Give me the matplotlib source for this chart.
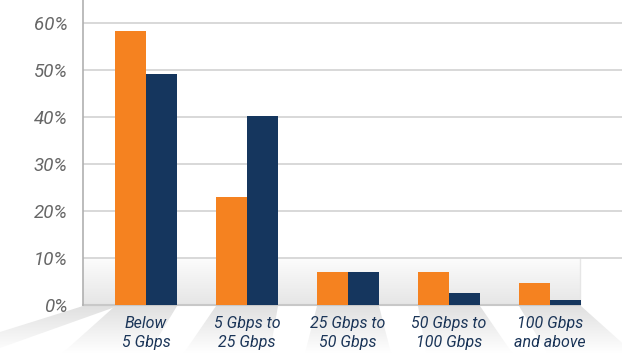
import numpy as np
import matplotlib.pyplot as plt
from matplotlib.patches import Polygon

categories = ["Below\n5 Gbps", "5 Gbps to\n25 Gbps", "25 Gbps to\n50 Gbps",
              "50 Gbps to\n100 Gbps", "100 Gbps\nand above"]
series_a = [58.2, 23.0, 7.0, 7.0, 4.6]
series_b = [49.2, 40.2, 7.0, 2.5, 1.1]
y_ticks = [0, 10, 20, 30, 40, 50, 60]

ORANGE = "#f58220"
NAVY = "#15365e"
W, H = 622, 353

fig = plt.figure(figsize=(W / 100, H / 100), dpi=100)
left, bottom = 83 / W, 48 / H
ax = fig.add_axes([left, bottom, 1 - left, 1 - bottom])

# background axes in pixel units for the floor shadows
bg = fig.add_axes([0, 0, 1, 1], zorder=-1)
bg.set_xlim(0, W)
bg.set_ylim(H, 0)
bg.axis("off")

x = np.arange(len(categories))
bw = 0.307
xmin, xmax = -0.624, 4.713
ax.set_xlim(xmin, xmax)
ax.set_ylim(0, 64.9)


def vgrad(top, bot, n=64):
    t = np.linspace(0, 1, n).reshape(-1, 1, 1)
    return (1 - t) * np.array(top) + t * np.array(bot)


# shaded band 0-10%
box_right = 4.297
ax.imshow(vgrad([0.99] * 3, [0.90] * 3), extent=(xmin, box_right, 0, 10),
          aspect="auto", origin="upper", zorder=0)
ax.plot([box_right, box_right], [0, 10], color="#e6e6e6", lw=1, zorder=1)

for t in y_ticks[1:]:
    ax.axhline(t, color="#d6d6d6", lw=1.3, zorder=1)
ax.plot([xmin, box_right], [0, 0], color="#c8c8c8", lw=1.5, zorder=1,
        clip_on=False)

ax.bar(x - bw / 2, series_a, bw, color=ORANGE, zorder=3)
ax.bar(x + bw / 2, series_b, bw, color=NAVY, zorder=3)

for s in ["top", "right", "bottom"]:
    ax.spines[s].set_visible(False)
ax.spines["left"].set_color("#b0b0b0")
ax.spines["left"].set_linewidth(1.2)

ax.set_yticks(y_ticks)
ax.set_yticklabels([f"{t}%" for t in y_ticks], fontsize=13.5, style="italic",
                   color="#666666", family="Roboto")
ax.tick_params(axis="y", length=0, pad=11)
ax.set_xticks(x)
ax.set_xticklabels(categories, fontsize=11.5, style="italic", color="#1b3558",
                   family="Roboto", linespacing=1.3)
ax.tick_params(axis="x", length=0, pad=8)

# faint perspective shadows below each group
fig.canvas.draw()
shade = vgrad([0.88] * 3, [1.0] * 3)
y0 = 306
centre = ax.transData.transform((2, 0))[0]
for c in x:
    cx = ax.transData.transform((c, 0))[0]
    shift = (cx - centre) * 0.2
    poly = Polygon([(cx - 31, y0), (cx + 31, y0),
                    (cx + 31 + shift + 12, H), (cx - 31 + shift - 12, H)],
                   closed=True, facecolor="none", edgecolor="none")
    bg.add_patch(poly)
    im = bg.imshow(shade, extent=(0, W, H, y0), aspect="auto", origin="upper")
    im.set_clip_path(poly)
poly = Polygon([(83, y0), (118, y0), (0, 348), (0, 332)], closed=True,
               facecolor="none", edgecolor="none")
bg.add_patch(poly)
im = bg.imshow(shade, extent=(0, W, H, y0), aspect="auto", origin="upper")
im.set_clip_path(poly)
bg.set_xlim(0, W)
bg.set_ylim(H, 0)

fig.savefig("out.png", dpi=100)
